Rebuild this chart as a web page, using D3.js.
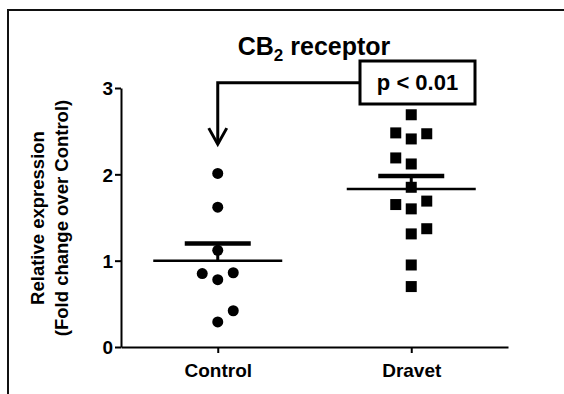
<!DOCTYPE html>
<html>
<head>
<meta charset="utf-8">
<script src="https://cdn.jsdelivr.net/npm/d3@7"></script>
<style>
  body { margin: 0; background: #fff; }
  text { font-family: "Liberation Sans", Arial, sans-serif; font-weight: bold; fill: #000; }
</style>
</head>
<body>
<svg id="chart" width="564" height="394"></svg>
<script>
// values
var groups = ["Control", "Dravet"];
var controlValues = [2.01, 1.62, 1.12, 0.85, 0.78, 0.86, 0.42, 0.29];
var controlSlot   = [0, 0, 0, -1, 0, 1, 1, 0];   // left / centre / right column
var dravetValues  = [2.69, 2.48, 2.41, 2.47, 2.19, 2.12, 1.85, 1.65, 1.60, 1.69, 1.37, 1.31, 0.95, 0.70];
var dravetSlot    = [0, -1, 0, 1, -1, 0, 0, -1, 0, 1, 1, 0, 0, 0];
var means  = [1.00, 1.83];
var semTop = [1.20, 1.98];
var yTicks = [0, 1, 2, 3];
var pLabel = "p < 0.01";
var arrowLevel = 3.06, arrowTip = 2.35;

var svg = d3.select('#chart');

var x = d3.scalePoint()
  .domain(groups)
  .range([121, 508])
  .padding(0.5);

var y = d3.scaleLinear()
  .domain([0, 3])
  .range([347, 88]);

var slotW = 15.5;

// outer frame (only left and top edges visible)
svg.append('path')
  .attr('d', 'M8,400 L8,10 L570,10')
  .attr('fill', 'none')
  .attr('stroke', '#111')
  .attr('stroke-width', 2);

// title
var title = svg.append('text')
  .attr('x', 314)
  .attr('y', 55)
  .attr('text-anchor', 'middle')
  .style('font-size', '25px');
title.append('tspan').text('CB');
title.append('tspan').text('2').attr('dy', 6).style('font-size', '17px');
title.append('tspan').text(' receptor').attr('dy', -6);

// axes
var yAxis = svg.append('g')
  .attr('transform', 'translate(121,0)')
  .call(d3.axisLeft(y).tickValues(yTicks).tickFormat(d3.format('d')).tickSize(6).tickSizeOuter(0).tickPadding(2));

var xAxis = svg.append('g')
  .attr('transform', 'translate(0,347)')
  .call(d3.axisBottom(x).tickSize(6).tickSizeOuter(0).tickPadding(8));

[yAxis, xAxis].forEach(function(a) {
  a.select('.domain').attr('stroke', '#000').attr('stroke-width', 2);
  a.selectAll('.tick line').attr('stroke', '#000').attr('stroke-width', 2);
  a.selectAll('.tick text').style('font-size', '19px').attr('fill', '#000');
});
yAxis.selectAll('.tick text').attr('dy', '0.36em');
xAxis.selectAll('.tick text').attr('dy', '0.85em');

// y axis title
var yt = svg.append('g')
  .attr('transform', 'translate(0,218) rotate(-90)');
yt.append('text')
  .attr('x', 0).attr('y', 44)
  .attr('text-anchor', 'middle')
  .style('font-size', '18.5px')
  .text('Relative expression');
yt.append('text')
  .attr('x', 0).attr('y', 67.5)
  .attr('text-anchor', 'middle')
  .style('font-size', '18.5px')
  .text('(Fold change over Control)');

// mean and SEM
var stats = groups.map(function(g, i) { return {g: g, mean: means[i], sem: semTop[i]}; });

svg.selectAll('.semv')
  .data(stats)
  .enter().append('line')
  .attr('x1', d => x(d.g)).attr('x2', d => x(d.g))
  .attr('y1', d => y(d.mean)).attr('y2', d => y(d.sem))
  .attr('stroke', '#000').attr('stroke-width', 3);

svg.selectAll('.semcap')
  .data(stats)
  .enter().append('line')
  .attr('x1', d => x(d.g) - 33).attr('x2', d => x(d.g) + 33)
  .attr('y1', d => y(d.sem)).attr('y2', d => y(d.sem))
  .attr('stroke', '#000').attr('stroke-width', 4.5);

svg.selectAll('.meanline')
  .data(stats)
  .enter().append('line')
  .attr('x1', d => x(d.g) - 64.5).attr('x2', d => x(d.g) + 64.5)
  .attr('y1', d => y(d.mean)).attr('y2', d => y(d.mean))
  .attr('stroke', '#000').attr('stroke-width', 2.5);

// points
var controlPts = controlValues.map((v, i) => ({v: v, s: controlSlot[i]}));
var dravetPts = dravetValues.map((v, i) => ({v: v, s: dravetSlot[i]}));

svg.selectAll('.ctrl')
  .data(controlPts)
  .enter().append('circle')
  .attr('cx', d => x('Control') + d.s * slotW)
  .attr('cy', d => y(d.v))
  .attr('r', 5.5)
  .attr('fill', '#000');

var sq = 11;
svg.selectAll('.drv')
  .data(dravetPts)
  .enter().append('rect')
  .attr('x', d => x('Dravet') + d.s * slotW - sq / 2)
  .attr('y', d => y(d.v) - sq / 2)
  .attr('width', sq).attr('height', sq)
  .attr('fill', '#000');

// significance annotation
var boxX = 360, boxW = 115, boxTop = 61, boxH = 43;
var ax = x('Control');
svg.append('path')
  .attr('d', `M${boxX},${y(arrowLevel)} L${ax},${y(arrowLevel)} L${ax},${y(arrowTip)}`)
  .attr('fill', 'none')
  .attr('stroke', '#000').attr('stroke-width', 3)
  .attr('stroke-linejoin', 'miter');
svg.append('path')
  .attr('d', `M${ax - 9},${y(arrowTip) - 16} L${ax},${y(arrowTip)} L${ax + 9},${y(arrowTip) - 16}`)
  .attr('fill', 'none')
  .attr('stroke', '#000').attr('stroke-width', 3);

svg.append('rect')
  .attr('x', boxX).attr('y', boxTop)
  .attr('width', boxW).attr('height', boxH)
  .attr('fill', '#fff')
  .attr('stroke', '#000').attr('stroke-width', 3);
svg.append('text')
  .attr('x', boxX + boxW / 2)
  .attr('y', 90)
  .attr('text-anchor', 'middle')
  .style('font-size', '22px')
  .text(pLabel);
</script>
</body>
</html>
